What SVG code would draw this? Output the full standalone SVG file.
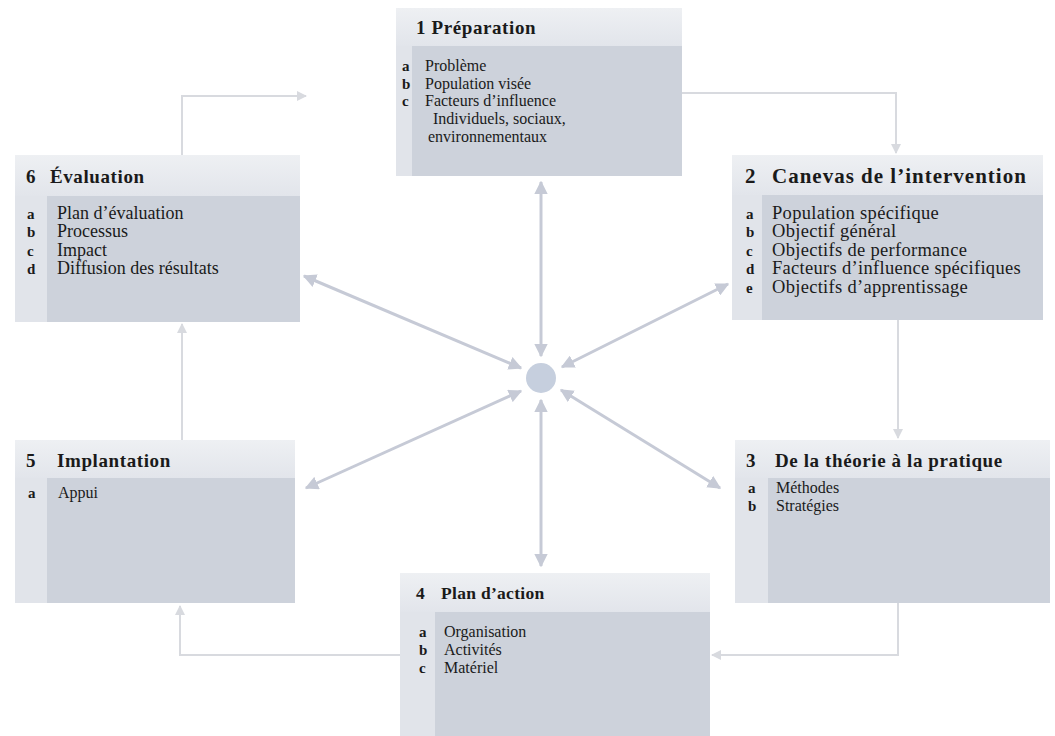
<svg xmlns="http://www.w3.org/2000/svg" width="1055" height="736" viewBox="0 0 1055 736">
<style>
.box{fill:#e1e4ea}
.hdr{fill:url(#hg)}
.body{fill:#cdd2db}
.t{font-family:"Liberation Serif","Times New Roman",serif;fill:#1a1a1a}
.ttl{font-size:19px;font-weight:bold;letter-spacing:0.6px}
.it{font-size:16px}
.it2{font-size:18.5px;letter-spacing:0.3px}
.it6{font-size:18px}
.lt{font-size:15px;font-weight:bold}
.rad{stroke:#c6cad6;stroke-width:3;fill:none;marker-start:url(#ra);marker-end:url(#ra)}
.flow{stroke:#d8dadf;stroke-width:2;fill:none;marker-end:url(#fa)}
</style>
<defs>
<linearGradient id="hg" x1="0" y1="0" x2="0" y2="1">
<stop offset="0" stop-color="#eef0f3"/>
<stop offset="1" stop-color="#e2e5eb"/>
</linearGradient>
<marker id="ra" viewBox="0 0 10 10" refX="9" refY="5" markerWidth="4.5" markerHeight="4.5" orient="auto-start-reverse">
<path d="M0,0 L10,5 L0,10 z" fill="#c6cad6"/>
</marker>
<marker id="fa" viewBox="0 0 10 10" refX="9" refY="5" markerWidth="5" markerHeight="5" orient="auto">
<path d="M0,0 L10,5 L0,10 z" fill="#d8dadf"/>
</marker>
</defs>
<rect width="1055" height="736" fill="#ffffff"/>
<g id="connectors">
<line class="rad" x1="541" y1="182" x2="541" y2="356"/>
<line class="rad" x1="541" y1="400" x2="541" y2="566"/>
<line class="rad" x1="304" y1="276" x2="521" y2="368"/>
<line class="rad" x1="728" y1="284" x2="562" y2="367"/>
<line class="rad" x1="306" y1="488" x2="521" y2="391"/>
<line class="rad" x1="720" y1="488" x2="561" y2="390"/>
<polyline class="flow" points="182,155 182,96 306,96"/>
<polyline class="flow" points="682,93 896,93 896,153"/>
<polyline class="flow" points="898,320 898,438"/>
<polyline class="flow" points="898,603 898,655 712,655"/>
<polyline class="flow" points="400,655 180,655 180,606"/>
<polyline class="flow" points="182,440 182,324"/>
</g>
<g id="center">
<circle cx="541" cy="378" r="15" fill="#c6cfde"/>
</g>
<g id="node1">
<rect class="box" x="396" y="8" width="286" height="168"/>
<rect class="hdr" x="396" y="8" width="286" height="38"/>
<rect class="body" x="412" y="46" width="270" height="130"/>
<text class="t ttl" x="416" y="34">1 Préparation</text>
<text class="t lt" x="402" y="71">a</text>
<text class="t lt" x="402" y="89">b</text>
<text class="t lt" x="402" y="106">c</text>
<text class="t it" x="425" y="71">Problème</text>
<text class="t it" x="425" y="89">Population visée</text>
<text class="t it" x="425" y="106">Facteurs d’influence</text>
<text class="t it" x="433" y="124">Individuels, sociaux,</text>
<text class="t it" x="428" y="142">environnementaux</text>
</g>
<g id="node2">
<rect class="box" x="732" y="155" width="311" height="165"/>
<rect class="hdr" x="732" y="155" width="311" height="40"/>
<rect class="body" x="762" y="195" width="281" height="125"/>
<text class="t ttl" x="745" y="183" style="font-size:21px;letter-spacing:1px">2</text>
<text class="t ttl" x="772" y="183" style="font-size:21px;letter-spacing:1px">Canevas de l’intervention</text>
<text class="t lt" x="746" y="219">a</text>
<text class="t lt" x="746" y="237">b</text>
<text class="t lt" x="746" y="256">c</text>
<text class="t lt" x="746" y="274">d</text>
<text class="t lt" x="746" y="293">e</text>
<text class="t it2" x="772" y="219">Population spécifique</text>
<text class="t it2" x="772" y="237">Objectif général</text>
<text class="t it2" x="772" y="256">Objectifs de performance</text>
<text class="t it2" x="772" y="274">Facteurs d’influence spécifiques</text>
<text class="t it2" x="772" y="293">Objectifs d’apprentissage</text>
</g>
<g id="node3">
<rect class="box" x="735" y="440" width="315" height="163"/>
<rect class="hdr" x="735" y="440" width="315" height="38"/>
<rect class="body" x="768" y="478" width="282" height="125"/>
<text class="t ttl" x="746" y="467">3</text>
<text class="t ttl" x="775" y="467">De la théorie à la pratique</text>
<text class="t lt" x="748" y="493">a</text>
<text class="t lt" x="748" y="511">b</text>
<text class="t it" x="776" y="493">Méthodes</text>
<text class="t it" x="776" y="511">Stratégies</text>
</g>
<g id="node4">
<rect class="box" x="400" y="573" width="310" height="163"/>
<rect class="hdr" x="400" y="573" width="310" height="39"/>
<rect class="body" x="435" y="612" width="275" height="124"/>
<text class="t ttl" x="416" y="599" style="font-size:17.5px;letter-spacing:0.3px">4</text>
<text class="t ttl" x="441" y="599" style="font-size:17.5px;letter-spacing:0.3px">Plan d’action</text>
<text class="t lt" x="419" y="637">a</text>
<text class="t lt" x="419" y="655">b</text>
<text class="t lt" x="419" y="673">c</text>
<text class="t it" x="444" y="637">Organisation</text>
<text class="t it" x="444" y="655">Activités</text>
<text class="t it" x="444" y="673">Matériel</text>
</g>
<g id="node5">
<rect class="box" x="15" y="440" width="280" height="163"/>
<rect class="hdr" x="15" y="440" width="280" height="38"/>
<rect class="body" x="47" y="478" width="248" height="125"/>
<text class="t ttl" x="26" y="467">5</text>
<text class="t ttl" x="57" y="467">Implantation</text>
<text class="t lt" x="28" y="498">a</text>
<text class="t it" x="58" y="498">Appui</text>
</g>
<g id="node6">
<rect class="box" x="15" y="155" width="285" height="167"/>
<rect class="hdr" x="15" y="155" width="285" height="41"/>
<rect class="body" x="47" y="196" width="253" height="126"/>
<text class="t ttl" x="26" y="183">6</text>
<text class="t ttl" x="50" y="183">Évaluation</text>
<text class="t lt" x="27" y="219">a</text>
<text class="t lt" x="27" y="237">b</text>
<text class="t lt" x="27" y="256">c</text>
<text class="t lt" x="27" y="274">d</text>
<text class="t it6" x="57" y="219">Plan d’évaluation</text>
<text class="t it6" x="57" y="237">Processus</text>
<text class="t it6" x="57" y="256">Impact</text>
<text class="t it6" x="57" y="274">Diffusion des résultats</text>
</g>
</svg>
